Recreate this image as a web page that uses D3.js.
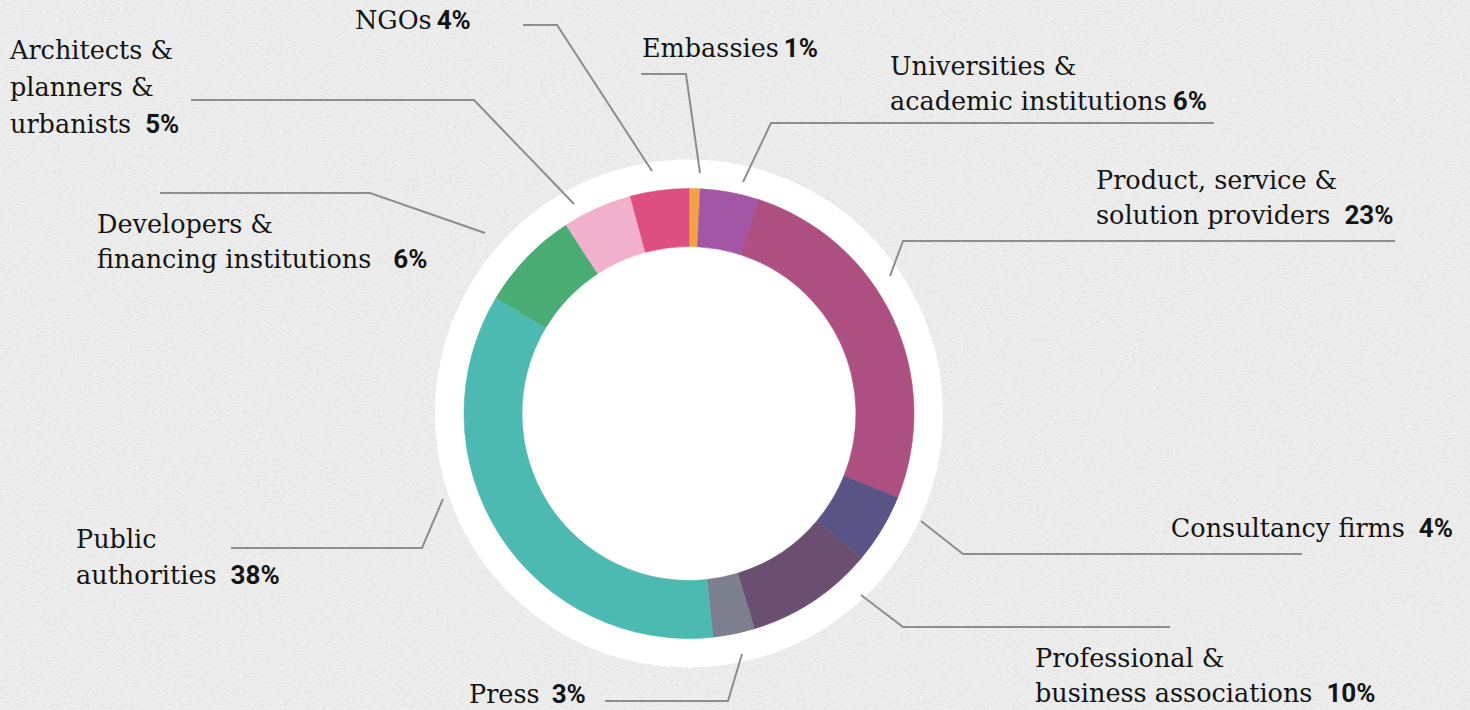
<!DOCTYPE html>
<html>
<head>
<meta charset="utf-8">
<script src="https://cdn.jsdelivr.net/npm/d3@7/dist/d3.min.js"></script>
<style>
  html, body { margin: 0; padding: 0; background: #eeeeee; overflow: hidden; }
  svg { display: block; }
</style>
</head>
<body>
<svg id="chart" width="1470" height="710"></svg>
<script>
// ---- data (clockwise from 12 o'clock) ----
const categories = [
  "Embassies",
  "Universities & academic institutions",
  "Product, service & solution providers",
  "Consultancy firms",
  "Professional & business associations",
  "Press",
  "Public authorities",
  "Developers & financing institutions",
  "Architects & planners & urbanists",
  "NGOs"
];
// slice sizes as drawn in the picture (share of the ring, %)
const sliceShares = [0.8, 4.2, 26.1, 5.0, 9.2, 3.0, 35.3, 7.2, 5.0, 4.2];
// percentages printed in the labels
const percentLabels = ["1%", "6%", "23%", "4%", "10%", "3%", "38%", "6%", "5%", "4%"];
// label line breaks
const labelLines = [
  ["Embassies"],
  ["Universities &", "academic institutions"],
  ["Product, service &", "solution providers"],
  ["Consultancy firms"],
  ["Professional &", "business associations"],
  ["Press"],
  ["Public", "authorities"],
  ["Developers &", "financing institutions"],
  ["Architects &", "planners &", "urbanists"],
  ["NGOs"]
];
const sliceColors = ["#f1a244", "#a456a6", "#ad5081", "#585485", "#6b4f70", "#7b7f8e",
                     "#4dbab1", "#48ac73", "#f1b1cd", "#dc4f80"];

// ---- layout (annotation placement) ----
const W = 1470, H = 710;
const cx = 689, cy = 413.5;
const rHalo = 254, rOuter = 225, rInner = 167;
const labelLayout = [
  { x: 642,  y: [57],            anchor: "start", gap: 5,  leader: [[641, 74], [686, 74], [700, 173]] },
  { x: 890,  y: [75, 110],       anchor: "start", gap: 6,  leader: [[1214, 123], [771, 123], [743, 182]] },
  { x: 1096, y: [189, 224],      anchor: "start", gap: 14, leader: [[1395, 241], [903, 241], [890, 276]] },
  { x: 1453, y: [537],           anchor: "end",   gap: 14, leader: [[1302, 554], [963, 554], [921, 521]] },
  { x: 1035, y: [667, 702],      anchor: "start", gap: 14, leader: [[1170, 627], [903, 627], [861, 595]] },
  { x: 469,  y: [703],           anchor: "start", gap: 12, leader: [[605, 701], [728, 701], [742, 654]] },
  { x: 76,   y: [548, 584],      anchor: "start", gap: 14, leader: [[231, 548], [422, 548], [443, 499]] },
  { x: 97,   y: [233, 268],      anchor: "start", gap: 22, leader: [[160, 193], [370, 193], [485, 233]] },
  { x: 10,   y: [59, 96, 133],   anchor: "start", gap: 14, leader: [[191, 100], [474, 100], [574, 204]] },
  { x: 355,  y: [29],            anchor: "start", gap: 5,  leader: [[523, 25], [557, 25], [652, 171]] }
];

const svg = d3.select("#chart");

// paper-like background
const defs = svg.append("defs");
const f = defs.append("filter").attr("id", "paper").attr("x", 0).attr("y", 0).attr("width", 1).attr("height", 1);
f.append("feTurbulence").attr("type", "fractalNoise").attr("baseFrequency", "0.3 0.9")
  .attr("numOctaves", 2).attr("seed", 7).attr("result", "n");
f.append("feColorMatrix").attr("in", "n").attr("type", "matrix")
  .attr("values", "0 0 0 0 0.5  0 0 0 0 0.5  0 0 0 0 0.5  -3.0 0 0 0 1.75");
svg.append("rect").attr("width", W).attr("height", H).attr("fill", "#eeeeee");
svg.append("rect").attr("width", W).attr("height", H).attr("filter", "url(#paper)").attr("opacity", 0.18);

// white halo
svg.append("circle").attr("cx", cx).attr("cy", cy).attr("r", rHalo).attr("fill", "#ffffff");

// donut
const pie = d3.pie().sort(null).value(d => d.v).startAngle(0).endAngle(2 * Math.PI);
const arc = d3.arc().innerRadius(rInner).outerRadius(rOuter);
const data = categories.map((c, i) => ({ c, v: sliceShares[i], i }));
const g = svg.append("g").attr("transform", `translate(${cx},${cy})`);
g.selectAll("path").data(pie(data)).join("path")
  .attr("d", arc)
  .attr("fill", d => sliceColors[d.data.i])
  .attr("stroke", d => sliceColors[d.data.i])
  .attr("stroke-width", 0.6);

// leader lines
const line = d3.line();
svg.append("g").selectAll("path").data(labelLayout).join("path")
  .attr("d", d => line(d.leader))
  .attr("fill", "none")
  .attr("stroke", "#8d8d8d")
  .attr("stroke-width", 2);

// labels
const labelFont = "'DejaVu Serif', serif";
const pctFont = "Roboto, 'Liberation Sans', sans-serif";
const tg = svg.append("g");
labelLayout.forEach((L, i) => {
  const lines = labelLines[i];
  lines.forEach((ln, k) => {
    const t = tg.append("text")
      .attr("x", L.x).attr("y", L.y[k])
      .attr("text-anchor", L.anchor)
      .attr("fill", "#141414")
      .style("font-family", labelFont)
      .style("font-size", "25.5px");
    t.append("tspan").text(ln);
    if (k === lines.length - 1) {
      t.append("tspan")
        .attr("dx", L.gap)
        .style("font-family", pctFont)
        .style("font-weight", 700)
        .style("font-size", "26px")
        .text(percentLabels[i]);
    }
  });
});
</script>
</body>
</html>
